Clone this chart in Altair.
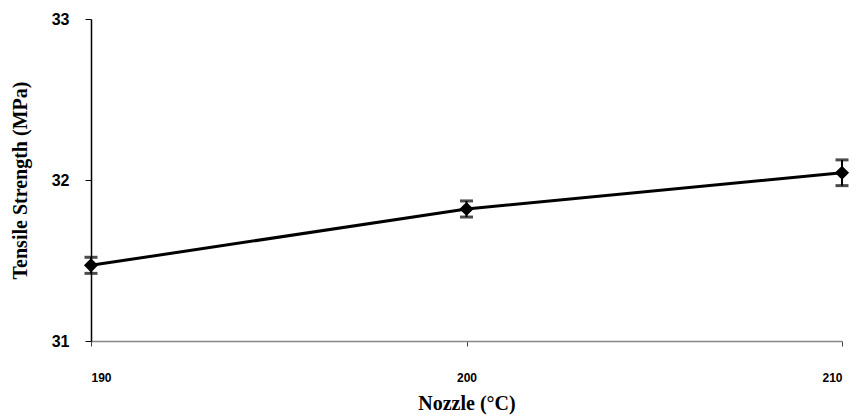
import altair as alt
import pandas as pd

nozzle = [190, 200, 210]
strength = [31.47, 31.82, 32.045]
err = [0.05, 0.05, 0.08]
x_ticks = [190, 200, 210]
y_ticks = [31, 32, 33]

df = pd.DataFrame({
    "nozzle": nozzle,
    "strength": strength,
    "lo": [s - e for s, e in zip(strength, err)],
    "hi": [s + e for s, e in zip(strength, err)],
})

x_axis = alt.Axis(values=x_ticks, title="Nozzle (°C)", format=".0f",
                  grid=False, domainColor="#888888", domainWidth=1.5,
                  tickColor="#444444", tickSize=5, labelPadding=26,
                  labelFont="Liberation Sans", labelFontWeight="bold",
                  labelFontSize=12, labelColor="#000000",
                  titleFont="Liberation Serif", titleFontWeight="bold",
                  titleFontSize=20, titleColor="#000000", titlePadding=10)
y_axis = alt.Axis(values=y_ticks, title="Tensile Strength (MPa)", format=".0f",
                  labelOverlap=False, labelFlush=False,
                  grid=False, domainColor="#000000", domainWidth=1.5,
                  tickColor="#000000", tickSize=6, labelPadding=16,
                  labelFont="Liberation Sans", labelFontWeight="bold",
                  labelFontSize=16, labelColor="#000000",
                  titleFont="Liberation Serif", titleFontWeight="bold",
                  titleFontSize=20, titleColor="#000000", titlePadding=21)
x_scale = alt.Scale(domain=[190, 210], nice=False, zero=False)
y_scale = alt.Scale(domain=[31, 33], nice=False, zero=False)

def X():
    return alt.X("nozzle:Q", scale=x_scale, axis=x_axis)

def Y(field):
    return alt.Y(f"{field}:Q", scale=y_scale, axis=y_axis)

base = alt.Chart(df)

line = base.mark_line(color="black", strokeWidth=3).encode(x=X(), y=Y("strength"))
rules = base.mark_rule(color="black", strokeWidth=2).encode(x=X(), y=Y("lo"), y2="hi:Q")
cap_lo = base.mark_tick(color="black", orient="horizontal", size=13, thickness=3).encode(
    x=X(), y=Y("lo"))
cap_hi = base.mark_tick(color="black", orient="horizontal", size=13, thickness=3).encode(
    x=X(), y=Y("hi"))
pts = base.mark_point(shape="diamond", filled=True, color="black", size=200, opacity=1).encode(
    x=X(), y=Y("strength"))

chart = alt.layer(line, rules, cap_lo, cap_hi, pts).properties(
    width=751, height=322,
    autosize=alt.AutoSizeParams(type="none"),
    padding={"left": 91, "top": 19, "right": 19, "bottom": 78},
).configure(background="white", view=alt.ViewConfig(stroke=None))

chart.save("out.html", embed_options={"renderer": "svg", "actions": False})
